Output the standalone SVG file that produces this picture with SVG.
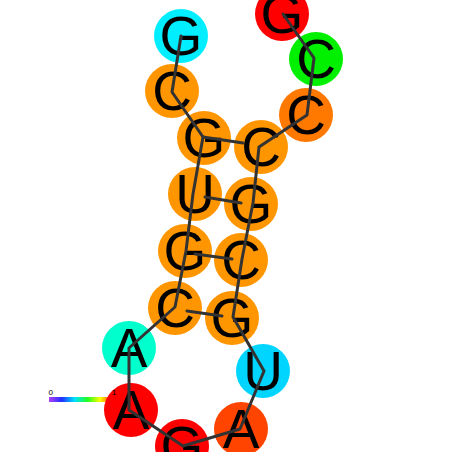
<svg xmlns="http://www.w3.org/2000/svg" width="452" height="452" viewBox="0 0 452 452">
<defs>
<linearGradient id="cbar" x1="0" y1="0" x2="1" y2="0">
<stop offset="0" stop-color="#b040ff"/>
<stop offset="0.2" stop-color="#2030ff"/>
<stop offset="0.4" stop-color="#00e0ff"/>
<stop offset="0.6" stop-color="#20ff20"/>
<stop offset="0.8" stop-color="#ffff00"/>
<stop offset="1" stop-color="#ff2000"/>
</linearGradient>
</defs>
<style>
.n circle{stroke:none}
.n text{font-family:"Liberation Sans",Arial,sans-serif;font-size:55px;text-anchor:middle;fill:#000}
.links line,.links polyline{stroke:#333;stroke-width:3;fill:none;stroke-linecap:round;stroke-linejoin:round}
.lab{font-family:"Liberation Sans",Arial,sans-serif;font-size:8px;fill:#000}
</style>
<rect width="452" height="452" fill="#fff"/>
<g id="colorbar">
<rect x="49" y="397" width="64" height="5" fill="url(#cbar)"/>
<text class="lab" x="48.5" y="395">0</text>
</g>
<g id="n1" class="n"><circle cx="181" cy="36" r="27" fill="#00eeff"/><text x="181" y="55">G</text></g>
<g id="n2" class="n"><circle cx="172" cy="91" r="27" fill="#ff9600"/><text x="172" y="110">C</text></g>
<g id="n3" class="n"><circle cx="204" cy="138" r="27" fill="#ff9600"/><text x="204" y="157">G</text></g>
<g id="n4" class="n"><circle cx="195" cy="194" r="27" fill="#ff9600"/><text x="195" y="213">U</text></g>
<g id="n5" class="n"><circle cx="185" cy="251" r="27" fill="#ff9600"/><text x="185" y="270">G</text></g>
<g id="n6" class="n"><circle cx="175" cy="308" r="27" fill="#ff9600"/><text x="175" y="327">C</text></g>
<g id="n7" class="n"><circle cx="129" cy="348" r="27" fill="#00ffcc"/><text x="129" y="367">A</text></g>
<g id="n8" class="n"><circle cx="131" cy="410" r="27" fill="#ff0000"/><text x="131" y="429">A</text></g>
<g id="n9" class="n"><circle cx="182" cy="446" r="27" fill="#ff0000"/><text x="182" y="465">G</text></g>
<g id="n10" class="n"><circle cx="241" cy="429" r="27" fill="#ff4400"/><text x="241" y="448">A</text></g>
<g id="n11" class="n"><circle cx="263" cy="371" r="27" fill="#00d5ff"/><text x="263" y="390">U</text></g>
<g id="n12" class="n"><circle cx="232" cy="318" r="27" fill="#ff9600"/><text x="232" y="337">G</text></g>
<g id="n13" class="n"><circle cx="241" cy="260" r="27" fill="#ff9600"/><text x="241" y="279">C</text></g>
<g id="n14" class="n"><circle cx="251" cy="204" r="27" fill="#ff9600"/><text x="251" y="223">G</text></g>
<g id="n15" class="n"><circle cx="261" cy="147" r="27" fill="#ff9600"/><text x="261" y="166">C</text></g>
<g id="n16" class="n"><circle cx="306" cy="115" r="27" fill="#ff7800"/><text x="306" y="134">C</text></g>
<g id="n17" class="n"><circle cx="316" cy="59" r="27" fill="#00f000"/><text x="316" y="78">C</text></g>
<g id="n18" class="n"><circle cx="282" cy="14" r="27" fill="#ff0000"/><text x="282" y="33">G</text></g>
<text class="lab" x="112" y="395">1</text>
<g id="connectors" class="links">
<polyline points="181,36 172,92 203,137 193,194 186,251 175,307 129,348 129,410 183,446 240,429 264,371 233,317 242,259 253,203 259,147 307,115 314,58 283,14"/>
<line x1="203" y1="137" x2="243" y2="143"/>
<line x1="205" y1="197" x2="241" y2="203"/>
<line x1="195" y1="254" x2="232" y2="259"/>
<line x1="187" y1="311" x2="222" y2="316"/>
</g>
</svg>
